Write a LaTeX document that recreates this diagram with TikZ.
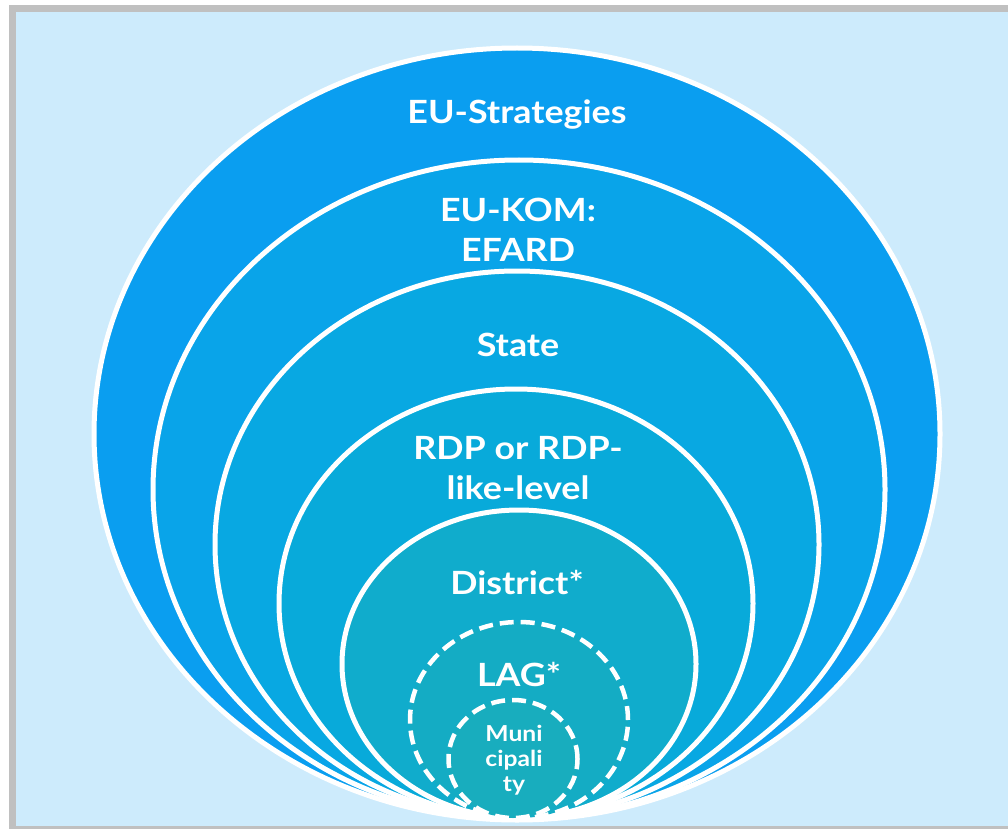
\documentclass[tikz,border=0pt]{standalone}
\usepackage{fontspec}
\setmainfont{Lato}[FakeStretch=1.12]
\definecolor{bgblue}{RGB}{205,235,252}
\definecolor{framegray}{RGB}{192,192,192}
\definecolor{eublue}{RGB}{10,158,240}
\definecolor{komblue}{RGB}{9,164,233}
\definecolor{stateblue}{RGB}{8,168,226}
\definecolor{rdpblue}{RGB}{8,170,218}
\definecolor{distteal}{RGB}{16,172,204}
\definecolor{lagteal}{RGB}{20,172,196}
\definecolor{munteal}{RGB}{24,173,190}
\begin{document}
\begin{tikzpicture}[x=1pt,y=-1pt,
ring/.style ={draw=white, line width=5pt},
dashring/.style ={draw=white, line width=4.5pt,
  dash pattern=on 14pt off 7pt
},
lbl/.style ={text=white, align=center, inner sep=0pt,
  font=\bfseries\fontsize{32}{40}\selectfont
},
smalllbl/.style ={text=white, align=center, inner sep=0pt,
  font=\bfseries\fontsize{22}{25}\selectfont
}]
\useasboundingbox (0,0) rectangle (1008,829);
\fill[white] (0,0) rectangle (1008,829);
\fill[framegray] (9,5) rectangle (1008,829);
\fill[bgblue] (16,12) rectangle (1008,826);

% nested levels, all touching at the bottom
\filldraw[ring, fill=eublue] (517,434) ellipse [x radius=423pt, y radius=386pt];
\filldraw[ring, fill=komblue] (519,489.5) ellipse [x radius=366pt, y radius=329.5pt];
\filldraw[ring, fill=stateblue] (517,544.5) ellipse [x radius=302pt, y radius=273.5pt];
\filldraw[ring, fill=rdpblue] (516,603.5) ellipse [x radius=237pt, y radius=214.5pt];
\filldraw[ring, fill=distteal] (519,664) ellipse [x radius=177pt, y radius=154pt];
\filldraw[dashring, fill=lagteal] (519,720) ellipse [x radius=109pt, y radius=98pt];
\filldraw[dashring, fill=munteal] (513,759) ellipse [x radius=64.5pt, y radius=59pt];

\node (eu) at (517,115) [lbl] {EU-Strategies};
\node (kom) at (518,230) [lbl] {EU-KOM:\\EFARD};
\node (state) at (518,345) [lbl] {State};
\node (rdp) at (518,468) [lbl] {RDP or RDP-\\like-level};
\node (district) at (517,582) [lbl] {District*};
\node (lag) at (519,674) [lbl] {LAG*};
\node (mun) at (514,760) [smalllbl] {Muni\\cipali\\ty};
\end{tikzpicture}
\end{document}
